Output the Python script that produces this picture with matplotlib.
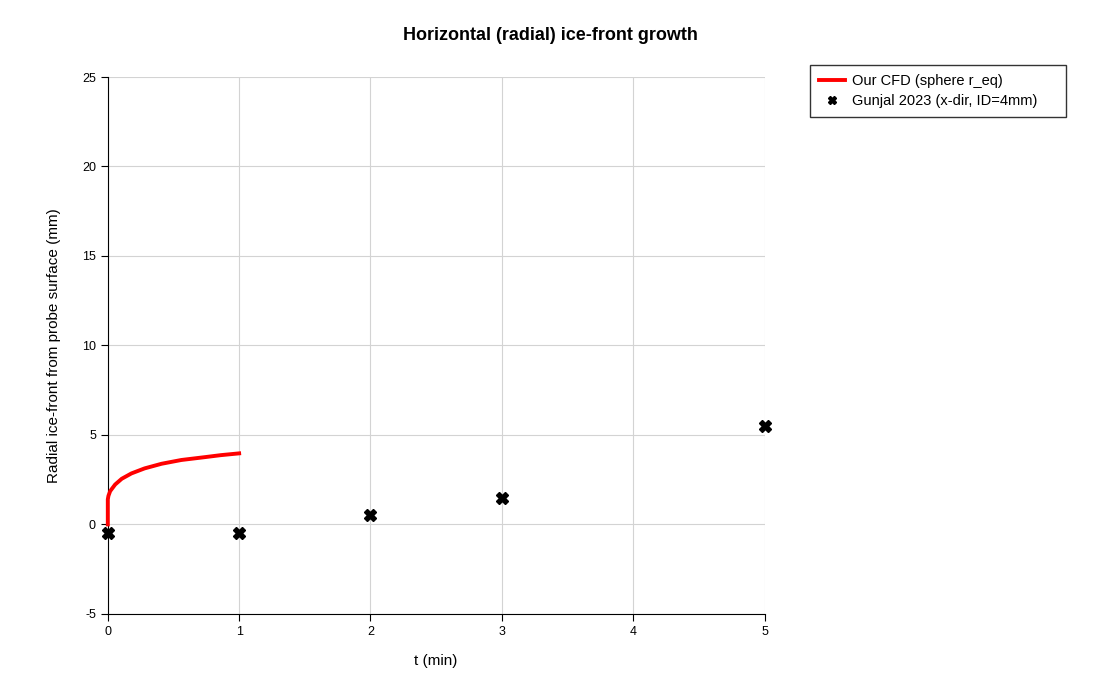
import matplotlib.pyplot as plt

plt.rcParams['font.family'] = ['Liberation Sans', 'DejaVu Sans']
plt.rcParams['axes.unicode_minus'] = False

# CFD curve
cfd_t = [0.0, 0.0, 0.005, 0.018, 0.056, 0.106, 0.18, 0.28, 0.41, 0.56, 0.74, 0.86, 1.0]
cfd_r = [0.0, 1.4, 1.6, 1.86, 2.23, 2.55, 2.85, 3.13, 3.39, 3.6, 3.76, 3.87, 3.97]

# Gunjal 2023 experimental points
exp_t = [0, 1, 2, 3, 5]
exp_r = [-0.5, -0.5, 0.5, 1.5, 5.5]

fig = plt.figure(figsize=(11, 7), dpi=100)
ax = fig.add_axes([0.098, 0.123, 0.597, 0.767])

ax.plot(cfd_t, cfd_r, color='red', lw=2.8, label='Our CFD (sphere r_eq)', zorder=3, clip_on=False)
ax.plot(exp_t, exp_r, 'X', color='black', ms=8, mec='black', ls='none',
        label='Gunjal 2023 (x-dir, ID=4mm)', zorder=4, clip_on=False)

ax.set_xlim(0, 5)
ax.set_ylim(-5, 25)
ax.set_xticks(range(0, 6))
ax.set_yticks(range(-5, 26, 5))
ax.grid(True, color='#d3d3d3', lw=0.8)
ax.set_axisbelow(True)
for s in ['top', 'right']:
    ax.spines[s].set_visible(False)
ax.tick_params(labelsize=9, length=5, direction='out')

ax.set_xlabel('t (min)', fontsize=11, labelpad=12)
ax.set_ylabel('Radial ice-front from probe surface (mm)', fontsize=11, labelpad=15)
fig.suptitle('Horizontal (radial) ice-front growth', fontsize=13, fontweight='bold', x=0.5, y=0.962)

leg = fig.legend(loc='upper left', bbox_to_anchor=(0.7364, 0.907, 0.2327, 0), mode='expand',
                 fontsize=10.5, frameon=True, fancybox=False, edgecolor='black',
                 borderpad=0.6, borderaxespad=0, handlelength=1.8, handletextpad=0.5,
                 markerscale=0.75, labelspacing=0.45)
leg.get_frame().set_linewidth(1)

fig.savefig('out.png', dpi=100)
